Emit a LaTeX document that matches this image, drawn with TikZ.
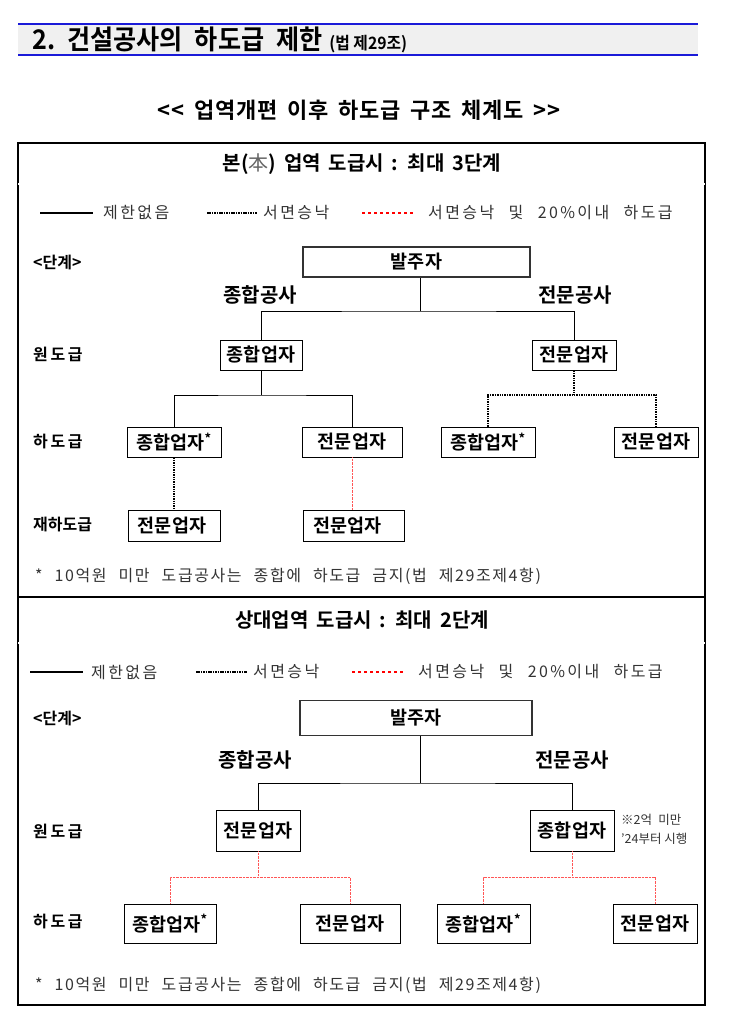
\documentclass[tikz,border=0pt]{standalone}
\usepackage{fontspec}
\setmainfont{Noto Sans CJK KR}[BoldFont={Noto Sans CJK KR Bold}]
\newfontfamily\krsp{Noto Sans CJK KR}[LetterSpace=15]
\newfontfamily\krnote{Noto Sans CJK KR}[LetterSpace=10]
\usetikzlibrary{calc}
\definecolor{bandgray}{HTML}{F0F0F0}
\definecolor{bandblue}{HTML}{1A1AD8}
\definecolor{legtxt}{HTML}{333333}
\definecolor{lightred}{HTML}{FF5555}
\newcommand\bxf{\fontsize{18.5}{20}\selectfont\bfseries}
\newcommand\lvf{\fontsize{16}{18}\selectfont\bfseries}
\newcommand\lgf{\fontsize{16}{18}\selectfont\krsp\color{legtxt}}
\newcommand\ws{\hspace{0.45em}}
\newcommand\wl{\hspace{0.9em}}
\newcommand\fs{\hspace{12pt}}
\tikzset{
  box/.style={draw, line width=0.8pt, fill=white, inner sep=0pt, font=\bxf},
  topbox/.style={draw=black!80, line width=1.8pt, fill=white, inner sep=0pt, font=\bxf},
  lvl/.style={anchor=west, inner sep=0pt, font=\lvf},
  kind/.style={inner sep=0pt, font=\fontsize{20}{22}\selectfont\bfseries},
  leg/.style={anchor=west, inner sep=0pt, font=\lgf},
  solidc/.style={line width=0.7pt},
  dotc/.style={line width=2pt, dash pattern=on 1.4pt off 1pt},
  redc/.style={lightred, line width=0.7pt, dash pattern=on 0.8pt off 0.6pt},
  legsolid/.style={line width=2pt},
  legdot/.style={line width=2.8pt, dash pattern=on 1.5pt off 0.9pt},
  legred/.style={red, line width=2.2pt, dash pattern=on 3pt off 3pt},
  sechead/.style={inner sep=0pt, font=\fontsize{20}{22}\selectfont\bfseries},
  note/.style={anchor=west, inner sep=0pt, font=\fontsize{16}{18}\selectfont\krnote\color{legtxt}},
  smallnote/.style={anchor=west, inner sep=0pt, font=\fontsize{12.5}{14}\selectfont\color{legtxt}},
}
\begin{document}
\begin{tikzpicture}[x=1pt,y=-1pt]
\useasboundingbox (0,0) rectangle (728,1033);
% ---- header band
\fill[bandgray] (18,24) rectangle (698,55);
\draw[bandblue, line width=1.5pt] (18,24) -- (698,24);
\draw[bandblue, line width=1.5pt] (18,55) -- (698,55);
\node[anchor=west, inner sep=0pt] (hdr) at (32,40) {\fontsize{27}{28}\selectfont\bfseries\addfontfeature{FakeStretch=0.93}2.\ws 건설공사의\ws 하도급\ws 제한\hspace{0.25em}{\fontsize{17}{18}\selectfont (법 제29조)}};
\node[inner sep=0pt] (ttl) at (359,110) {\fontsize{22}{24}\selectfont\bfseries\addfontfeature{LetterSpace=4}{<}{<}\, 업역개편\, 이후\, 하도급\, 구조\, 체계도\, {>}{>}};
% ---- outer frame
\draw[line width=1.8pt] (18,143) rectangle (705,1005);
\draw[line width=0.7pt, double, double distance=1.2pt] (18,184) -- (705,184);
\draw[line width=1.6pt] (18,597) -- (705,597);
\draw[line width=0.7pt, double, double distance=1.2pt] (18,643) -- (705,643);
\node[sechead] (s1) at (362,164) {본({\mdseries\color{black!60}本})\, 업역\, 도급시\, :\, 최대\, 3단계};
\node[sechead] (s2) at (362,620) {상대업역\, 도급시\, :\, 최대\, 2단계};

% ================= SECTION 1
\coordinate (l1a) at (40,213); \coordinate (l1b) at (93,213);
\draw[legsolid] (l1a) -- (l1b);
\node[leg] (lt1) at (103,213) {제한없음};
\coordinate (l1c) at (207,213); \coordinate (l1d) at (257,213);
\draw[legdot] (l1c) -- (l1d);
\node[leg] (lt2) at (263,213) {서면승낙};
\coordinate (l1e) at (362,213); \coordinate (l1f) at (413,213);
\draw[legred] (l1e) -- (l1f);
\node[leg] (lt3) at (428,213) {서면승낙\wl 및\wl 20\%이내\wl 하도급};

\node[lvl] (st1) at (33,262) {<단계>};
\node[topbox, minimum width=227, minimum height=30] (ow1) at (416.5,262) {발주자};
\node[kind] (k1a) at (260,295) {종합공사};
\node[kind] (k1b) at (575,295) {전문공사};

\node[lvl] (lv1a) at (33,354) {원\,도\,급};
\node[box, minimum width=82, minimum height=30] (w1a) at (261,355) {종합업자};
\node[box, minimum width=84, minimum height=30] (w1b) at (574,355) {전문업자};

\node[lvl] (lv1b) at (33,442) {하\,도\,급};
\node[box, minimum width=94, minimum height=30] (h1a) at (174,442) {종합업자\textsuperscript{*}};
\node[box, minimum width=100, minimum height=30] (h1b) at (352,442) {전문업자};
\node[box, minimum width=94, minimum height=30] (h1c) at (488,442) {종합업자\textsuperscript{*}};
\node[box, minimum width=84, minimum height=30] (h1d) at (656,442) {전문업자};

\node[lvl] (lv1c) at (33,525) {재하도급};
\node[box, minimum width=92, minimum height=31] (r1a) at (174,525.5) {전문업자\hspace*{4pt}};
\node[box, minimum width=101, minimum height=31] (r1b) at (353.5,525.5) {전문업자\hspace*{12pt}};

\coordinate (j1) at (420,311);
\coordinate (j2) at (261,395);
\coordinate (j3) at (574,395);
\draw[solidc] (j1) -- (j1 |- ow1.south);
\draw[solidc] (w1a.north) |- (j1) -| (w1b.north);
\draw[solidc] (w1a.south) -- (j2);
\draw[solidc] (h1a.north) |- (j2) -| (h1b.north);
\draw[dotc] (w1b.south) -- (j3);
\draw[dotc] (h1c.north) |- (j3) -| (h1d.north);
\draw[dotc] (h1a.south) -- (r1a.north);
\draw[redc] (h1b.south) -- (h1b.south |- r1b.north);

\node[note] (n1) at (35,576) {*\fs 10억원\fs 미만\fs 도급공사는\fs 종합에\fs 하도급\fs 금지(법\fs 제29조제4항)};

% ================= SECTION 2
\coordinate (l2a) at (30,672); \coordinate (l2b) at (83,672);
\draw[legsolid] (l2a) -- (l2b);
\node[leg] (lt4) at (91,672) {제한없음};
\coordinate (l2c) at (196,672); \coordinate (l2d) at (247,672);
\draw[legdot] (l2c) -- (l2d);
\node[leg] (lt5) at (253,672) {서면승낙};
\coordinate (l2e) at (352,672); \coordinate (l2f) at (403,672);
\draw[legred] (l2e) -- (l2f);
\node[leg] (lt6) at (418,672) {서면승낙\wl 및\wl 20\%이내\wl 하도급};

\node[lvl] (st2) at (33,718) {<단계>};
\node[topbox, minimum width=232, minimum height=35] (ow2) at (416,718) {발주자};
\node[kind] (k2a) at (255,760) {종합공사};
\node[kind] (k2b) at (572,760) {전문공사};

\node[lvl] (lv2a) at (33,831) {원\,도\,급};
\node[box, minimum width=84, minimum height=41] (w2a) at (258,830.5) {전문업자};
\node[box, minimum width=84, minimum height=41] (w2b) at (572,830.5) {종합업자};
\node[smallnote] (nt) at (621,820) {※2억\; 미만};
\node[smallnote] (nt2) at (621,839) {’24부터 시행};

\node[lvl] (lv2b) at (33,922) {하\,도\,급};
\node[box, minimum width=92, minimum height=39] (h2a) at (170,923.5) {종합업자\textsuperscript{*}};
\node[box, minimum width=100, minimum height=39] (h2b) at (350,923.5) {전문업자};
\node[box, minimum width=93, minimum height=39] (h2c) at (483.5,923.5) {종합업자\textsuperscript{*}};
\node[box, minimum width=84, minimum height=39] (h2d) at (655,923.5) {전문업자};

\coordinate (j4) at (420,783);
\coordinate (j5) at (258,877);
\coordinate (j6) at (572,877);
\draw[solidc] (j4) -- (j4 |- ow2.south);
\draw[solidc] (w2a.north) |- (j4) -| (w2b.north);
\draw[redc] (w2a.south) -- (j5);
\draw[redc] (h2a.north) |- (j5) -| (h2b.north);
\draw[redc] (w2b.south) -- (j6);
\draw[redc] (h2c.north) |- (j6) -| (h2d.north);

\node[note] (n2) at (35,985) {*\fs 10억원\fs 미만\fs 도급공사는\fs 종합에\fs 하도급\fs 금지(법\fs 제29조제4항)};
\end{tikzpicture}
\end{document}
